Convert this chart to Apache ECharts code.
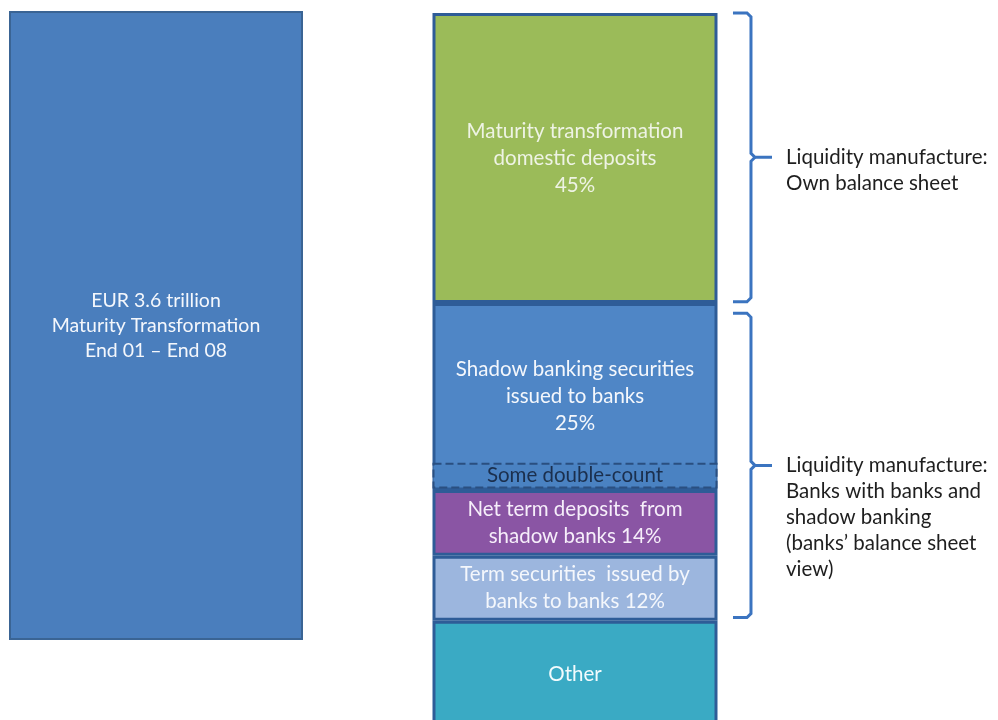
<!DOCTYPE html>
<html><head><meta charset="utf-8">
<script src="https://cdn.jsdelivr.net/npm/echarts@6/dist/echarts.min.js"></script>
<style>html,body{margin:0;padding:0;background:#fff}#c{width:998px;height:720px}</style>
</head><body><div id="c"></div>
<script>
// ---- data ----
const categories = ['Total', '', 'Breakdown', 'Annotation'];
const totalValue = 97.6;
const totalLabel = 'EUR 3.6 trillion\nMaturity Transformation\nEnd 01 \u2013 End 08';
const segmentNames = ['spacer', 'Maturity transformation domestic deposits', 'Shadow banking securities issued to banks', 'Net term deposits from shadow banks', 'Term securities issued by banks to banks', 'Other'];
const segmentValues = [0.3, 45.0, 29.0, 10.2, 10.1, 16.8];
const segmentLabels = ['', 'Maturity transformation\ndomestic deposits\n45%', 'Shadow banking securities\nissued to banks\n25%', 'Net term deposits  from\nshadow banks 14%', 'Term securities  issued by\nbanks to banks 12%', 'Other'];
const doubleCountStart = 70.1;
const doubleCountValue = 4.0;
const doubleCountLabel = 'Some double-count';
const bracketFrom = [0.3, 46.9];
const bracketTo = [45.1, 94.1];
const bracketLabels = ['Liquidity manufacture:\nOwn balance sheet', 'Liquidity manufacture:\nBanks with banks and\nshadow banking\n(banks\u2019 balance sheet\nview)'];

// ---- styles ----
const FONT = 'Lato';
const segmentColors = ['rgba(0,0,0,0)', '#9bbb59', '#4f86c6', '#8a55a4', '#9cb6de', '#3aaac4'];
const segmentTextColors = ['#fff', '#eef3e4', '#f4f7fc', '#f6eefa', '#f4f7fc', '#f2fbfd'];
const borderCol = '#2e5c97';

const chart = echarts.init(document.getElementById('c'));
const pick = (idx, v) => categories.map((c, i) => i === idx ? v : '-');

const series = [];
series.push({
  name: 'Total', type: 'bar', xAxisIndex: 1, yAxisIndex: 0, clip: false,
  data: pick(0, totalValue), barWidth: 294,
  itemStyle: { color: '#4a7ebd', borderColor: '#3a6494', borderWidth: 2 },
  label: { show: true, position: 'inside', formatter: totalLabel, color: '#f4f7fc',
    fontFamily: FONT, fontSize: 19.5, lineHeight: 25 }
});
segmentValues.forEach((v, i) => {
  const spacer = i === 0;
  series.push({
    name: segmentNames[i], type: 'bar', xAxisIndex: 0, yAxisIndex: 0, stack: 'main', clip: false,
    data: pick(2, v), barWidth: 285, barGap: '-100%', silent: spacer,
    itemStyle: spacer ? { color: 'rgba(0,0,0,0)' } : { color: segmentColors[i], borderColor: borderCol, borderWidth: 3 },
    label: { show: !spacer, position: 'inside', formatter: segmentLabels[i], color: segmentTextColors[i],
      fontFamily: FONT, fontSize: 20.5, lineHeight: 27 }
  });
});
series.push({
  name: 'dcBase', type: 'bar', xAxisIndex: 0, yAxisIndex: 0, stack: 'dc', silent: true,
  data: pick(2, doubleCountStart), barWidth: 285, barGap: '-100%',
  itemStyle: { color: 'rgba(0,0,0,0)' }, label: { show: false }
});
series.push({
  name: 'Some double-count', type: 'bar', xAxisIndex: 0, yAxisIndex: 0, stack: 'dc',
  data: pick(2, doubleCountValue), barWidth: 285, barGap: '-100%',
  itemStyle: { color: '#4a82c2', borderColor: '#2a4f80', borderWidth: 2, borderType: 'dashed' },
  label: { show: true, position: 'inside', formatter: doubleCountLabel, color: '#1b2f4d',
    fontFamily: FONT, fontSize: 20.5 }
});
series.push({
  name: 'Brackets', type: 'custom', xAxisIndex: 0, yAxisIndex: 0,
  data: bracketFrom.map((f, i) => [3, f, bracketTo[i], i]),
  renderItem: function (params, api) {
    const a = api.coord([api.value(0), api.value(1)]);
    const b = api.coord([api.value(0), api.value(2)]);
    const band = api.size([1, 0])[0];
    const x = a[0] - band * 0.16;
    const y1 = a[1], y2 = b[1], ym = (y1 + y2) / 2;
    const ls = { fill: 'none', stroke: '#3b74c0', lineWidth: 3 };
    return { type: 'group', children: [
      { type: 'polyline', shape: { points: [[x - 18, y1], [x - 4, y1], [x, y1 + 4], [x, ym - 4], [x + 4, ym], [x + 21, ym]] }, style: ls },
      { type: 'polyline', shape: { points: [[x + 4, ym], [x, ym + 4], [x, y2 - 4], [x - 4, y2], [x - 18, y2]] }, style: ls },
      { type: 'text', x: x + 35, y: ym - 13, style: { text: bracketLabels[api.value(3)], fill: '#1e1e1e',
        font: '20.5px ' + FONT, lineHeight: 26, verticalAlign: 'top', align: 'left' } }
    ] };
  }
});

chart.setOption({
  animation: false,
  backgroundColor: '#ffffff',
  grid: { left: 51.25, right: 108.75, top: 11, bottom: 0 },
  xAxis: [
    { type: 'category', data: categories, show: false },
    { type: 'category', data: categories, show: false }
  ],
  yAxis: { type: 'value', min: 0, max: 110, inverse: true, show: false },
  series: series
});
</script></body></html>
